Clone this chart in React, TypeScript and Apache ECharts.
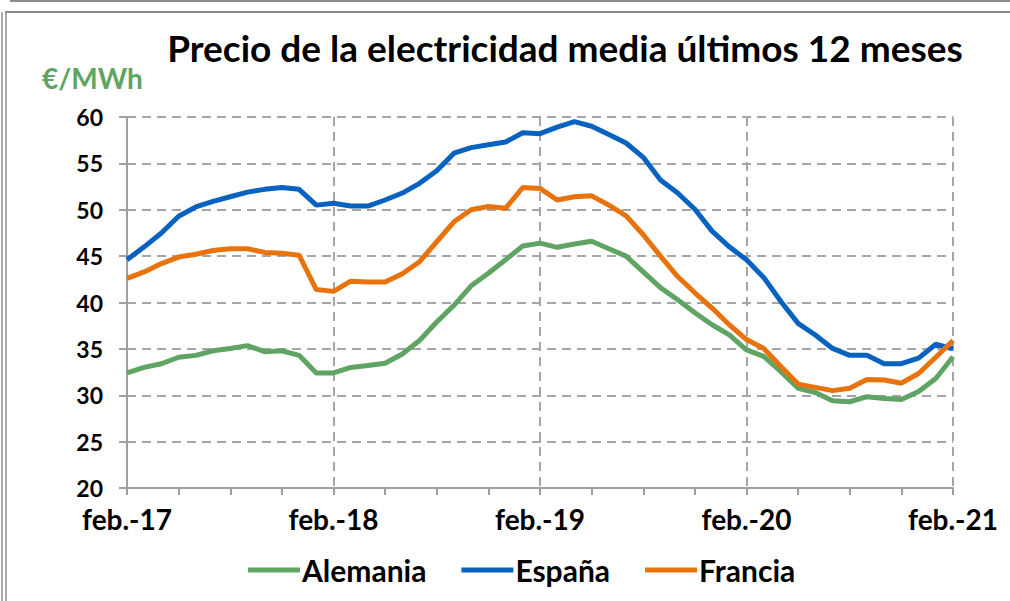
import React, { useEffect, useRef } from "react";
import * as echarts from "echarts";

const MONTHS = ["ene.", "feb.", "mar.", "abr.", "may.", "jun.", "jul.", "ago.", "sep.", "oct.", "nov.", "dic."];
const categories: string[] = [];
for (let i = 0; i < 49; i++) {
  const m = (1 + i) % 12;
  const y = 17 + Math.floor((1 + i) / 12);
  categories.push(`${MONTHS[m]}-${y}`);
}

const alemania = [
  32.4, 33.0, 33.4, 34.1, 34.3, 34.8, 35.05, 35.35, 34.7, 34.8, 34.3, 32.4, 32.4,
  33.0, 33.2, 33.45, 34.45, 35.9, 37.9, 39.7, 41.8, 43.15, 44.6, 46.1, 46.4,
  45.95, 46.3, 46.6, 45.8, 45.0, 43.3, 41.6, 40.3, 38.9, 37.6, 36.5, 34.9,
  34.2, 32.55, 30.75, 30.3, 29.4, 29.3, 29.85, 29.65, 29.55, 30.4, 31.8, 34.15,
];
const espana = [
  44.6, 46.0, 47.5, 49.3, 50.3, 50.9, 51.4, 51.9, 52.2, 52.4, 52.2, 50.5, 50.7,
  50.4, 50.4, 51.05, 51.8, 52.85, 54.2, 56.1, 56.7, 57.0, 57.3, 58.3, 58.2,
  58.9, 59.5, 59.0, 58.1, 57.2, 55.65, 53.2, 51.8, 50.05, 47.7, 46.0, 44.6,
  42.7, 40.1, 37.75, 36.5, 35.05, 34.3, 34.3, 33.4, 33.4, 34.0, 35.5, 35.0,
];
const francia = [
  42.6, 43.3, 44.2, 44.9, 45.2, 45.6, 45.8, 45.8, 45.4, 45.3, 45.1, 41.4, 41.2,
  42.3, 42.2, 42.2, 43.1, 44.4, 46.55, 48.7, 50.0, 50.35, 50.15, 52.4, 52.3,
  51.05, 51.4, 51.5, 50.5, 49.35, 47.3, 45.0, 42.8, 41.05, 39.4, 37.6, 36.0,
  35.05, 33.1, 31.2, 30.85, 30.5, 30.75, 31.7, 31.65, 31.3, 32.35, 34.1, 35.9,
];

const FONT = "Lato";

export default function App() {
  const ref = useRef<HTMLDivElement>(null);
  useEffect(() => {
    document.body.style.margin = "0";
    const chart = echarts.init(ref.current!, null, { renderer: "svg" });
    const mk = (name: string, data: number[], color: string) => ({
      name,
      type: "line",
      data,
      symbol: "none",
      lineStyle: { color, width: 5 },
      itemStyle: { color },
      z: 3,
    });
    chart.setOption({
      animation: false,
      backgroundColor: "#ffffff",
      textStyle: { fontFamily: FONT },
      title: {
        text: "Precio de la electricidad media últimos 12 meses",
        left: 560,
        textAlign: "center",
        top: 24,
        textStyle: { fontFamily: FONT, fontWeight: "bold", fontSize: 37, color: "#000" },
      },
      grid: { left: 127, right: 57, top: 117, bottom: 113 },
      legend: {
        bottom: 11,
        left: 243,
        icon: "rect",
        itemWidth: 52,
        itemHeight: 5,
        itemGap: 35,
        textStyle: { fontFamily: FONT, fontWeight: "bold", fontSize: 30, color: "#000", padding: [0, 0, 0, -3] },
        data: ["Alemania", "España", "Francia"],
      },
      xAxis: {
        type: "category",
        data: categories,
        boundaryGap: false,
        axisLine: { lineStyle: { color: "#a0a0a0", width: 2 } },
        axisTick: { interval: 2, length: 7, lineStyle: { color: "#a0a0a0", width: 2 } },
        axisLabel: {
          interval: 11,
          margin: 17,
          fontFamily: FONT,
          fontWeight: "bold",
          fontSize: 28,
          color: "#000",
        },
        splitLine: {
          show: true,
          interval: 11,
          lineStyle: { color: "#a6a6a6", type: [9, 6], width: 2 },
        },
      },
      yAxis: {
        type: "value",
        min: 20,
        max: 60,
        interval: 5,
        axisLine: { show: true, lineStyle: { color: "#a0a0a0", width: 2 } },
        axisTick: { show: true, length: 8, lineStyle: { color: "#a0a0a0", width: 2 } },
        axisLabel: {
          margin: 24,
          fontFamily: FONT,
          fontWeight: "bold",
          fontSize: 23,
          color: "#000",
        },
        splitLine: { lineStyle: { color: "#a6a6a6", type: [9, 6], width: 2 } },
      },
      graphic: [
        {
          type: "text",
          left: 42,
          top: 64,
          style: { text: "€/MWh", fill: "#5fa462", font: `bold 28px ${FONT}` },
        },
        { type: "line", shape: { x1: 10, y1: 1, x2: 1010, y2: 1 }, style: { stroke: "#8c8c8c", lineWidth: 2 } },
        { type: "line", shape: { x1: 5, y1: 12, x2: 1010, y2: 12 }, style: { stroke: "#8c8c8c", lineWidth: 2 } },
        { type: "line", shape: { x1: 2, y1: 12, x2: 2, y2: 601 }, style: { stroke: "#8c8c8c", lineWidth: 1.5 } },
        { type: "line", shape: { x1: 6, y1: 12, x2: 6, y2: 601 }, style: { stroke: "#8c8c8c", lineWidth: 1.5 } },
      ],
      series: [
        mk("Alemania", alemania, "#5fa462"),
        mk("España", espana, "#0862bf"),
        mk("Francia", francia, "#e8720c"),
      ],
    });
    return () => chart.dispose();
  }, []);
  return <div ref={ref} style={{ position: "absolute", left: 0, top: 0, width: 1010, height: 601 }} />;
}
